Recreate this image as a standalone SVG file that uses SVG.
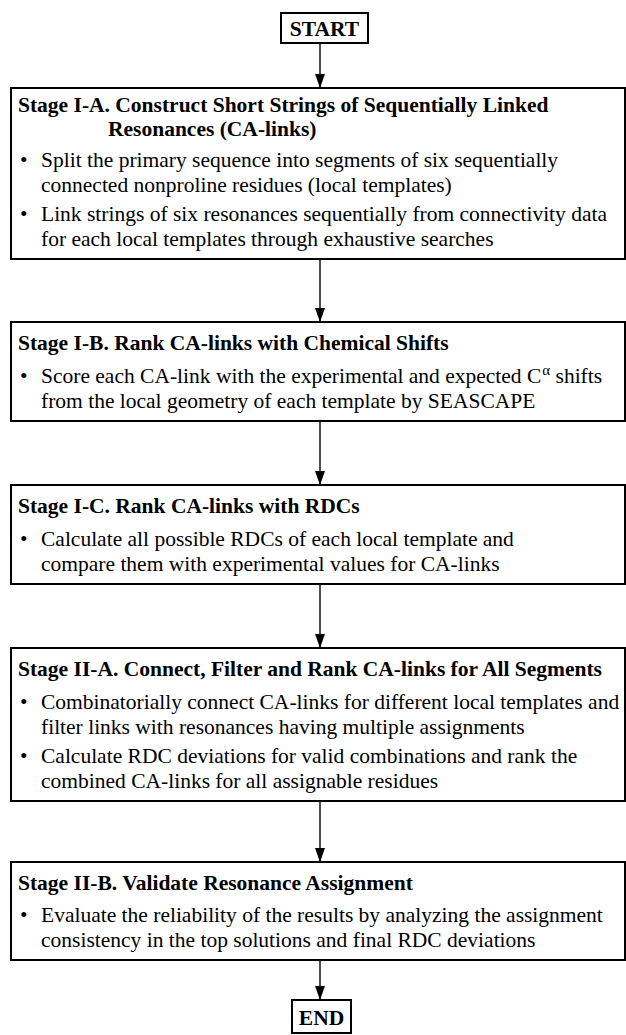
<svg xmlns="http://www.w3.org/2000/svg" width="626" height="1035" viewBox="0 0 626 1035">
<defs>
<style>
.box{fill:#fff;stroke:#000;stroke-width:2}
.t{font-family:"Liberation Serif","Times New Roman",serif;font-size:21.5px;fill:#000}
.b{font-weight:bold}
.sup{font-size:15px}
.con line{stroke:#000;stroke-width:1.4}
</style>
<marker id="ah" markerUnits="userSpaceOnUse" markerWidth="14" markerHeight="10" refX="14" refY="5" orient="auto">
<path d="M0,0 L14,5 L0,10 z" fill="#000"/>
</marker>
</defs>
<rect width="626" height="1035" fill="#fff"/>

<g id="start">
<rect class="box" x="281" y="13" width="87" height="30"/>
<text class="t b" x="324.5" y="36" text-anchor="middle">START</text>
</g>

<g id="stage-1a">
<rect class="box" x="11" y="88" width="614" height="171"/>
<text class="t b" x="18" y="112">Stage I-A. Construct Short Strings of Sequentially Linked</text>
<text class="t b" x="108" y="136">Resonances (CA-links)</text>
<text class="t" x="20" y="167">•</text>
<text class="t" x="41" y="167">Split the primary sequence into segments of six sequentially</text>
<text class="t" x="41" y="192">connected nonproline residues (local templates)</text>
<text class="t" x="20" y="221">•</text>
<text class="t" x="41" y="221">Link strings of six resonances sequentially from connectivity data</text>
<text class="t" x="41" y="246">for each local templates through exhaustive searches</text>
</g>

<g id="stage-1b">
<rect class="box" x="11" y="322" width="614" height="99"/>
<text class="t b" x="18" y="350">Stage I-B. Rank CA-links with Chemical Shifts</text>
<text class="t" x="20" y="383">•</text>
<text class="t" x="41" y="383">Score each CA-link with the experimental and expected C<tspan class="sup" dx="1" dy="-8">α</tspan><tspan dy="8"> shifts</tspan></text>
<text class="t" x="41" y="408">from the local geometry of each template by SEASCAPE</text>
</g>

<g id="stage-1c">
<rect class="box" x="11" y="485" width="614" height="99"/>
<text class="t b" x="18" y="513">Stage I-C. Rank CA-links with RDCs</text>
<text class="t" x="20" y="546">•</text>
<text class="t" x="41" y="546">Calculate all possible RDCs of each local template and</text>
<text class="t" x="41" y="571">compare them with experimental values for CA-links</text>
</g>

<g id="stage-2a">
<rect class="box" x="11" y="648" width="614" height="153"/>
<text class="t b" x="18" y="676">Stage II-A. Connect, Filter and Rank CA-links for All Segments</text>
<text class="t" x="20" y="709">•</text>
<text class="t" x="41" y="709">Combinatorially connect CA-links for different local templates and</text>
<text class="t" x="41" y="734">filter links with resonances having multiple assignments</text>
<text class="t" x="20" y="763">•</text>
<text class="t" x="41" y="763">Calculate RDC deviations for valid combinations and rank the</text>
<text class="t" x="41" y="788">combined CA-links for all assignable residues</text>
</g>

<g id="stage-2b">
<rect class="box" x="11" y="862" width="614" height="98"/>
<text class="t b" x="18" y="890">Stage II-B. Validate Resonance Assignment</text>
<text class="t" x="20" y="922">•</text>
<text class="t" x="41" y="922">Evaluate the reliability of the results by analyzing the assignment</text>
<text class="t" x="41" y="947">consistency in the top solutions and final RDC deviations</text>
</g>

<g id="end">
<rect class="box" x="292" y="1000" width="59" height="33"/>
<text class="t b" x="321.5" y="1025" text-anchor="middle">END</text>
</g>

<g id="connectors" class="con">
<line x1="320" y1="43" x2="320" y2="88" marker-end="url(#ah)"/>
<line x1="320" y1="259" x2="320" y2="322" marker-end="url(#ah)"/>
<line x1="320" y1="421" x2="320" y2="485" marker-end="url(#ah)"/>
<line x1="320" y1="584" x2="320" y2="648" marker-end="url(#ah)"/>
<line x1="320" y1="801" x2="320" y2="862" marker-end="url(#ah)"/>
<line x1="320" y1="960" x2="320" y2="1000" marker-end="url(#ah)"/>
</g>
</svg>
